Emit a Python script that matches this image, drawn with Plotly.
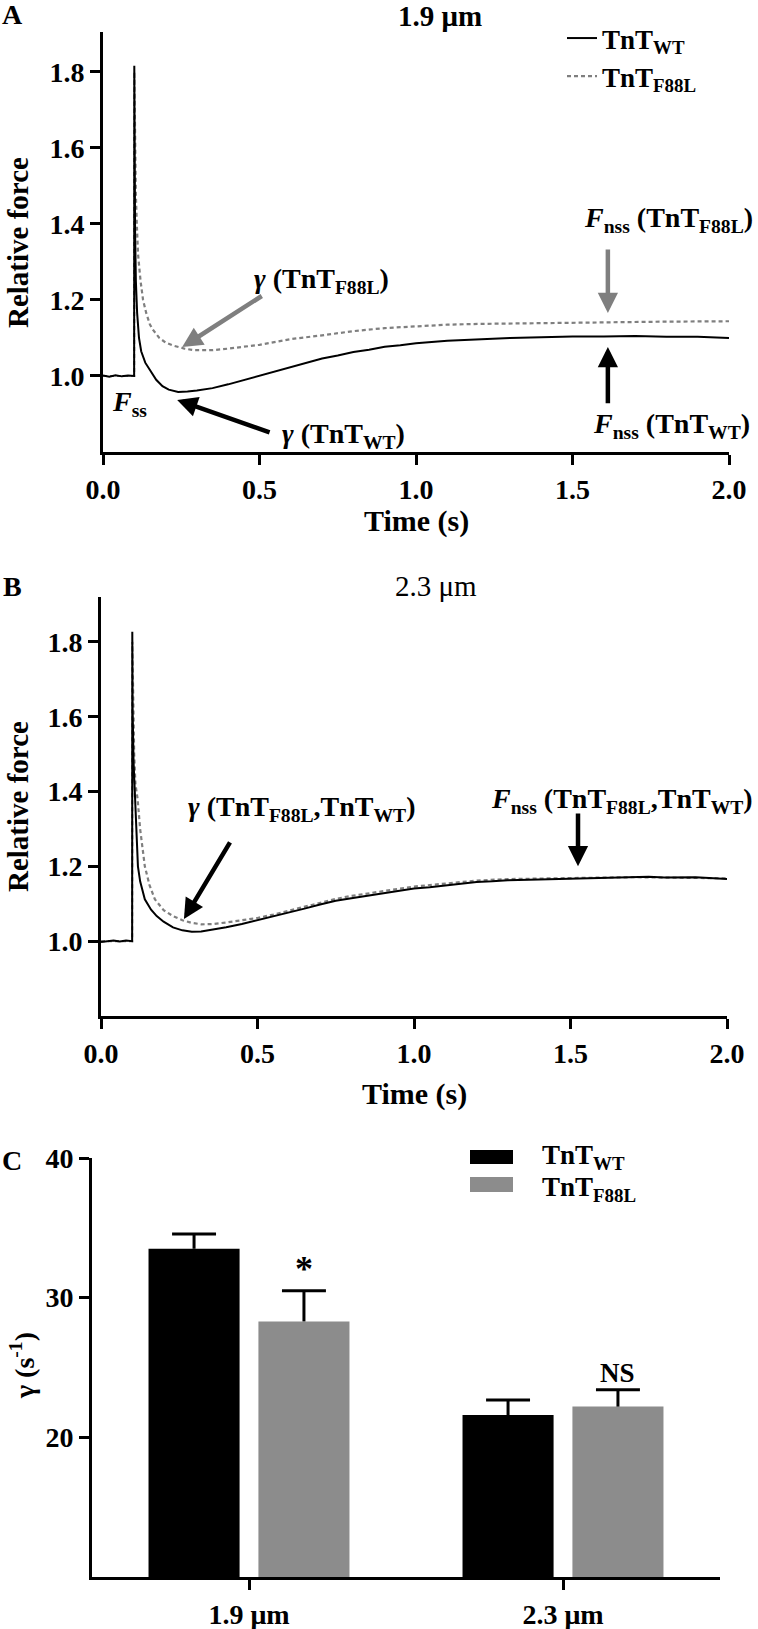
import plotly.graph_objects as go

# ---- panel A (1.9 um) traces ----
tA_wt = [0.0, 0.02, 0.04, 0.06, 0.08, 0.0995, 0.1, 0.101, 0.1025, 0.105, 0.109, 0.115, 0.122,
         0.135, 0.15, 0.17, 0.19, 0.21, 0.24, 0.27, 0.3, 0.35, 0.4, 0.45, 0.5, 0.55, 0.6,
         0.65, 0.7, 0.75, 0.8, 0.85, 0.9, 0.95, 1.0, 1.1, 1.2, 1.3, 1.4, 1.5, 1.6, 1.7,
         1.8, 1.9, 2.0]
fA_wt = [1.001, 0.998, 1.002, 0.999, 1.001, 1.0, 1.816, 1.60, 1.38, 1.25, 1.166, 1.10, 1.065,
         1.035, 1.015, 0.99, 0.973, 0.964, 0.958, 0.959, 0.962, 0.968, 0.978, 0.989, 1.0, 1.011, 1.023,
         1.034, 1.046, 1.054, 1.063, 1.069, 1.077, 1.081, 1.086, 1.093, 1.097, 1.100, 1.102, 1.104, 1.104, 1.105,
         1.103, 1.103, 1.100]

tA_mut = [0.0, 0.05, 0.0995, 0.1, 0.102, 0.105, 0.108, 0.112, 0.12, 0.128, 0.138, 0.15, 0.16,
          0.18, 0.2, 0.224, 0.26, 0.29, 0.35, 0.4, 0.5, 0.6, 0.7, 0.8, 0.9, 1.0, 1.1, 1.2,
          1.4, 1.6, 1.8, 2.0]
fA_mut = [1.0, 1.0, 1.0, 1.80, 1.62, 1.48, 1.40, 1.32, 1.25, 1.20, 1.166, 1.135, 1.121,
          1.10, 1.088, 1.080, 1.072, 1.068, 1.068, 1.072, 1.082, 1.097, 1.107, 1.118, 1.126, 1.131, 1.135, 1.137,
          1.139, 1.142, 1.143, 1.144]

# ---- panel B (2.3 um) traces ----
tB_wt = [0.0, 0.02, 0.04, 0.06, 0.08, 0.0995, 0.1, 0.101, 0.104, 0.109, 0.113, 0.118, 0.125,
         0.14, 0.16, 0.178, 0.2, 0.23, 0.26, 0.29, 0.32, 0.36, 0.4, 0.45, 0.5, 0.55, 0.6,
         0.65, 0.7, 0.75, 0.8, 0.85, 0.9, 0.95, 1.0, 1.05, 1.1, 1.15, 1.2, 1.25, 1.3, 1.4,
         1.5, 1.6, 1.7, 1.75, 1.8, 1.9, 2.0]
fB_wt = [0.998, 1.0, 1.002, 0.999, 1.002, 1.0, 1.827, 1.62, 1.48, 1.37, 1.28, 1.20, 1.16,
         1.112, 1.084, 1.067, 1.052, 1.037, 1.029, 1.025, 1.026, 1.031, 1.037, 1.046, 1.056, 1.065, 1.077,
         1.087, 1.098, 1.108, 1.115, 1.122, 1.127, 1.134, 1.141, 1.144, 1.149, 1.154, 1.158, 1.160, 1.163, 1.165,
         1.167, 1.168, 1.170, 1.172, 1.170, 1.171, 1.166]

tB_mut = [0.0, 0.05, 0.0995, 0.1, 0.102, 0.106, 0.11, 0.113, 0.117, 0.125, 0.14, 0.155, 0.172,
          0.2, 0.23, 0.26, 0.29, 0.32, 0.36, 0.4, 0.45, 0.5, 0.55, 0.6, 0.65, 0.7, 0.75,
          0.8, 0.9, 1.0, 1.1, 1.2, 1.3, 1.4, 1.5, 1.6, 1.7, 1.8, 1.9, 2.0]
fB_mut = [1.0, 1.0, 1.0, 1.80, 1.65, 1.50, 1.42, 1.40, 1.38, 1.30, 1.20, 1.15, 1.112,
          1.083, 1.067, 1.056, 1.049, 1.045, 1.046, 1.050, 1.055, 1.062, 1.071, 1.082, 1.091, 1.103, 1.113,
          1.121, 1.133, 1.146, 1.154, 1.162, 1.166, 1.168, 1.170, 1.170, 1.171, 1.170, 1.170, 1.168]

# ---- panel C bars ----
lengths = ["1.9 μm", "2.3 μm"]
gamma_wt = [33.5, 21.6]
gamma_wt_sem = [1.05, 1.07]
gamma_mut = [28.3, 22.2]
gamma_mut_sem = [2.2, 1.2]
signif = ["*", "NS"]

W, H = 758, 1629
FONT = "Liberation Serif, Times New Roman, serif"
GRAY = "#7f7f7f"
BARGRAY = "#8c8c8c"

# bar geometry on the numeric category axis
BAR_W = 0.29
OFF = 0.175
CAP = 0.07


def px(x):
    return x / W


def py(y):
    return 1 - y / H


idx = list(range(len(lengths)))
x_wt = [i - OFF for i in idx]
x_mut = [i + OFF for i in idx]

fig = go.Figure()

fig.add_trace(go.Scatter(x=tA_mut, y=fA_mut, mode="lines", name="TnT<sub>F88L</sub>",
                         line=dict(color=GRAY, width=2.2, dash="4px,3px"), xaxis="x", yaxis="y"))
fig.add_trace(go.Scatter(x=tA_wt, y=fA_wt, mode="lines", name="TnT<sub>WT</sub>",
                         line=dict(color="black", width=2), xaxis="x", yaxis="y"))
fig.add_trace(go.Scatter(x=tB_mut, y=fB_mut, mode="lines", showlegend=False,
                         line=dict(color=GRAY, width=2.2, dash="4px,3px"), xaxis="x2", yaxis="y2"))
fig.add_trace(go.Scatter(x=tB_wt, y=fB_wt, mode="lines", showlegend=False,
                         line=dict(color="black", width=2), xaxis="x2", yaxis="y2"))
fig.add_trace(go.Bar(x=x_wt, y=gamma_wt, width=BAR_W, marker=dict(color="black", line=dict(width=0)),
                     showlegend=False, xaxis="x3", yaxis="y3"))
fig.add_trace(go.Bar(x=x_mut, y=gamma_mut, width=BAR_W, marker=dict(color=BARGRAY, line=dict(width=0)),
                     showlegend=False, xaxis="x3", yaxis="y3"))

# upward-only error bars (stem + cap), built from the means and SEMs
ex, ey = [], []
for xs, means, sems in [(x_wt, gamma_wt, gamma_wt_sem), (x_mut, gamma_mut, gamma_mut_sem)]:
    for xc, m, s in zip(xs, means, sems):
        ex += [xc, xc, None, xc - CAP, xc + CAP, None]
        ey += [m, m + s, None, m + s, m + s, None]
fig.add_trace(go.Scatter(x=ex, y=ey, mode="lines", line=dict(color="black", width=3),
                         showlegend=False, hoverinfo="skip", xaxis="x3", yaxis="y3"))

axis_common = dict(showline=True, linewidth=3, linecolor="black", ticks="outside", ticklen=10,
                   tickwidth=3, tickcolor="black", showgrid=False, zeroline=False, automargin=False,
                   tickfont=dict(family=FONT, size=28, color="black", weight="bold"))

time_ticks = dict(tickvals=[0, 0.5, 1, 1.5, 2], ticktext=["0.0", "0.5", "1.0", "1.5", "2.0"])
force_ticks = dict(tickvals=[1.0, 1.2, 1.4, 1.6, 1.8], ticktext=["1.0", "1.2", "1.4", "1.6", "1.8"])

fig.update_layout(
    width=W, height=H, margin=dict(l=0, r=0, t=0, b=0, autoexpand=False),
    paper_bgcolor="white", plot_bgcolor="white",
    xaxis=dict(domain=[px(103), px(729)], range=[0, 2], anchor="y", **time_ticks, **axis_common),
    yaxis=dict(domain=[py(452), py(32)], range=[0.8, 1.905], anchor="x", **force_ticks, **axis_common),
    xaxis2=dict(domain=[px(101), px(727)], range=[0, 2], anchor="y2", **time_ticks, **axis_common),
    yaxis2=dict(domain=[py(1016), py(597)], range=[0.8, 1.92], anchor="x2", **force_ticks, **axis_common),
    xaxis3=dict(domain=[px(92), px(720)], range=[-0.5, 1.5], anchor="y3",
                tickvals=idx, ticktext=lengths, **axis_common),
    yaxis3=dict(domain=[py(1577), py(1158)], range=[10, 40], anchor="x3",
                tickvals=[20, 30, 40], **axis_common),
    legend=dict(x=px(562), y=py(14), xanchor="left", yanchor="top", traceorder="reversed",
                bgcolor="rgba(0,0,0,0)", itemwidth=30, tracegroupgap=0,
                font=dict(family=FONT, size=27, color="black", weight="bold")),
)

anns = []


def label(x, y, text, size=28, bold=True, angle=0, xanchor="center"):
    anns.append(dict(x=px(x), y=py(y), xref="paper", yref="paper", text=text, showarrow=False,
                     textangle=angle, xanchor=xanchor, yanchor="middle",
                     font=dict(family=FONT, size=size, color="black",
                               weight="bold" if bold else "normal")))


def arrow(xa, ya, x0, y0, x1, y1, color):
    anns.append(dict(xref=xa, yref=ya, axref=xa, ayref=ya, x=x1, y=y1, ax=x0, ay=y0, text="",
                     showarrow=True, arrowhead=2, arrowsize=0.9, arrowwidth=4.5, arrowcolor=color))


# panel letters and titles
label(12, 15, "A", 28)
label(12, 586, "B", 28)
label(12, 1160, "C", 28)
label(440, 16, "1.9 μm", 29)
label(436, 586, "2.3 μm", 29, bold=False)

# axis titles
label(18, 243, "Relative force", 29, angle=-90)
label(18, 807, "Relative force", 29, angle=-90)
label(416, 521, "Time (s)", 30)
label(414, 1094, "Time (s)", 30)
label(22, 1366, "γ (s<sup>-1</sup>)", 28, angle=-90)

# panel A annotations
arrow("x", "y", 0.512, 1.213, 0.253, 1.076, GRAY)
label(321, 280, "<i>γ</i> (TnT<sub>F88L</sub>)", 28)
arrow("x", "y", 0.537, 0.850, 0.237, 0.937, "black")
label(343, 435, "<i>γ</i> (TnT<sub>WT</sub>)", 28)
label(129, 403, "<i>F</i><sub>ss</sub>", 28)
arrow("x", "y", 1.613, 1.337, 1.613, 1.166, GRAY)
label(755, 220, "<i>F</i><sub>nss</sub> (TnT<sub>F88L</sub>)", 28, xanchor="right")
arrow("x", "y", 1.613, 0.924, 1.613, 1.076, "black")
label(752, 425, "<i>F</i><sub>nss</sub> (TnT<sub>WT</sub>)", 28, xanchor="right")

# panel B annotations
arrow("x2", "y2", 0.415, 1.268, 0.265, 1.059, "black")
label(301, 809, "<i>γ</i> (TnT<sub>F88L</sub>,TnT<sub>WT</sub>)", 28)
arrow("x2", "y2", 1.524, 1.345, 1.524, 1.200, "black")
label(755, 800, "<i>F</i><sub>nss</sub> (TnT<sub>F88L</sub>,TnT<sub>WT</sub>)", 28, xanchor="right")

# panel C significance marks, above the F88L error bars
for xc, m, s, txt in zip(x_mut, gamma_mut, gamma_mut_sem, signif):
    anns.append(dict(x=xc, y=m + s, xref="x3", yref="y3", text=txt, showarrow=False,
                     yanchor="bottom", yshift=0,
                     font=dict(family=FONT, size=36 if txt == "*" else 27, color="black", weight="bold")))

# panel C legend
label(540, 1157, "TnT<sub>WT</sub>", 27, xanchor="left")
label(540, 1189, "TnT<sub>F88L</sub>", 27, xanchor="left")

fig.update_layout(annotations=anns, shapes=[
    dict(type="rect", xref="paper", yref="paper", x0=px(470), x1=px(513), y0=py(1164), y1=py(1150),
         fillcolor="black", line=dict(width=0)),
    dict(type="rect", xref="paper", yref="paper", x0=px(470), x1=px(513), y0=py(1192), y1=py(1177),
         fillcolor=BARGRAY, line=dict(width=0)),
])

# the page body has a default 8px margin; drop it so the figure fills the window exactly
fig.write_html("out.html", config={"displayModeBar": False},
               post_script="document.body.style.margin='0px';")
